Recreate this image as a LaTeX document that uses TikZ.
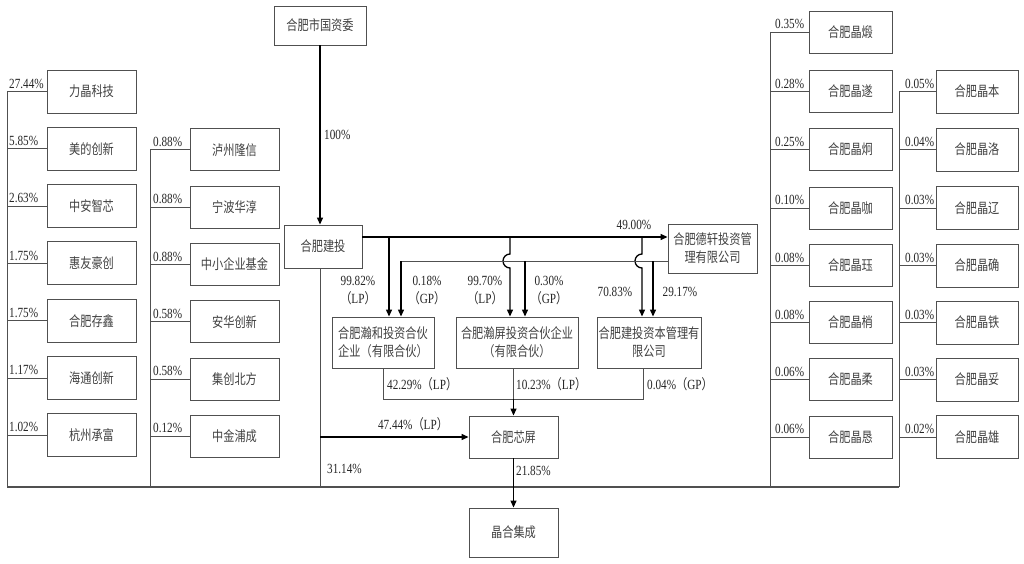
\documentclass[tikz,border=0pt]{standalone}
\usepackage{fontspec}
\setmainfont{Liberation Serif}[FakeStretch=0.8]
\newfontfamily\cjk{Noto Sans CJK SC}[FakeStretch=0.8]
\usetikzlibrary{arrows.meta}
\definecolor{linegray}{HTML}{505050}
\definecolor{textgray}{HTML}{404040}
\newcommand{\kzL}{{\cjk （}}
\newcommand{\kzR}{{\cjk ）}}
\tikzset{
  box/.style={draw=linegray, line width=0.9pt, text=textgray, align=center, inner sep=1pt, font=\cjk\fontsize{14}{18}\selectfont},
  holder/.style={box, minimum width=89pt, minimum height=43pt},
  pct/.style={inner sep=0pt, text=black!85, align=center, font=\fontsize{14}{18}\selectfont},
  link/.style={draw=linegray, line width=0.9pt},
  own/.style={draw=black, line width=1.3pt, -{Triangle[length=7pt,width=6pt]}}
}
\begin{document}
\begin{tikzpicture}[x=1pt,y=-1pt]
\useasboundingbox (0,0) rectangle (1024,564);
\node[box, minimum width=92pt, minimum height=39pt] (gzw) at (320,25.5) {合肥市国资委};
\node[box, minimum width=78pt, minimum height=43pt] (jt) at (323,246.5) {合肥建投};
\node[box, minimum width=89pt, minimum height=49pt] (dx) at (712.5,248.5) {合肥德轩投资管\\理有限公司};
\node[box, minimum width=102pt, minimum height=51pt] (hh) at (383,342.5) {合肥瀚和投资合伙\\企业（有限合伙）};
\node[box, minimum width=122pt, minimum height=51pt] (hp) at (517,342.5) {合肥瀚屏投资合伙企业\\（有限合伙）};
\node[box, minimum width=104pt, minimum height=51pt] (zb) at (649,342.5) {合肥建投资本管理有\\限公司};
\node[box, minimum width=89pt, minimum height=42pt] (xp) at (513.5,437) {合肥芯屏};
\node[box, minimum width=89pt, minimum height=49pt] (jh) at (513.5,532.5) {晶合集成};
\coordinate (busA) at (7,487);
\coordinate (busB) at (150,487);
\coordinate (busJ) at (gzw.south |- busA);
\coordinate (busC) at (770,487);
\coordinate (busD) at (899,487);
\draw[link, line width=1.2pt] (busA) -- (busD);
\draw[own] (gzw.south) -- (gzw.south |- jt.north);
\node[pct, anchor=west] (p100) at (324,135) {100\%};
\draw[link] (gzw.south |- jt.south) -- (busJ);
\coordinate (j1) at (gzw.south |- xp.west);
\draw[own] (j1) -- (xp.west);
\node[pct] (p4744) at (413,424) {47.44\%\kzL LP\kzR};
\node[pct, anchor=west] (p3114) at (327,469) {31.14\%};
\coordinate (t0) at (jt.east |- 0,237);
\draw[own] (t0) -- (t0 -| dx.west);
\node[pct] (p4900) at (634,225) {49.00\%};
\coordinate (t1) at (389,237);
\draw[own] (t1) -- (t1 |- hh.north);
\coordinate (t2) at (510,237);
\draw[own] (t2) -- (510,254) arc[start angle=-90, end angle=-270, radius=7] -- (t2 |- hp.north);
\coordinate (t3) at (642,237);
\draw[own] (t3) -- (642,254) arc[start angle=-90, end angle=-270, radius=7] -- (t3 |- zb.north);
\coordinate (g0) at (dx.west |- 0,261);
\coordinate (g1) at (401,261);
\draw[link] (g0) -- (g1);
\draw[own] (g1) -- (g1 |- hh.north);
\coordinate (g2) at (525,261);
\draw[own] (g2) -- (g2 |- hp.north);
\coordinate (g3) at (653,261);
\draw[own] (g3) -- (g3 |- zb.north);
\node[pct] (p9982) at (358,291) {99.82\%\\\kzL LP\kzR};
\node[pct] (p0018) at (427,291) {0.18\%\\\kzL GP\kzR};
\node[pct] (p9970) at (485,291) {99.70\%\\\kzL LP\kzR};
\node[pct] (p0030) at (549,291) {0.30\%\\\kzL GP\kzR};
\node[pct] (p7083) at (615,292) {70.83\%};
\node[pct] (p2917) at (680,292) {29.17\%};
\coordinate (m1) at (hh.south |- 0,399);
\coordinate (m2) at (xp.north |- 0,399);
\coordinate (m3) at (643,399);
\draw[link] (hh.south) -- (m1) -- (m3) -- (m3 |- zb.south);
\draw[link] (m2 |- hp.south) -- (m2);
\draw[own] (m2) -- (xp.north);
\node[pct, anchor=west] (p4229) at (387,384) {42.29\%\kzL LP\kzR};
\node[pct, anchor=west] (p1023) at (516,384) {10.23\%\kzL LP\kzR};
\node[pct, anchor=west] (p0004) at (647,384) {0.04\%\kzL GP\kzR};
\draw[own] (xp.south) -- (jh.north);
\node[pct, anchor=west] (p2185) at (516,471) {21.85\%};
\foreach \nm/\pc [count=\i from 0] in {力晶科技/27.44,美的创新/5.85,中安智芯/2.63,惠友豪创/1.75,合肥存鑫/1.75,海通创新/1.17,杭州承富/1.02}{
  \node[holder] (la\i) at (91.5,91.5+57.3*\i) {\nm};
  \coordinate (lap\i) at (7,91.5+57.3*\i);
  \draw[link] (lap\i) -- (la\i.west);
  \node[pct, anchor=south west] (lat\i) at ([shift={(2,-3)}]lap\i) {\pc\%};
}
\draw[link] (lap0) -- (busA);
\foreach \nm/\pc [count=\i from 0] in {泸州隆信/0.88,宁波华淳/0.88,中小企业基金/0.88,安华创新/0.58,集创北方/0.58,中金浦成/0.12}{
  \node[holder, minimum height=42pt] (lb\i) at (234.5,149.8+57.3*\i) {\nm};
  \coordinate (lbp\i) at (150,149.8+57.3*\i);
  \draw[link] (lbp\i) -- (lb\i.west);
  \node[pct, anchor=south west] (lbt\i) at ([shift={(3,-3)}]lbp\i) {\pc\%};
}
\draw[link] (lbp0) -- (busB);
\foreach \nm/\pc/\yy [count=\i from 0] in {合肥晶煅/0.35/32,合肥晶遂/0.28/91.5,合肥晶炯/0.25/149.5,合肥晶咖/0.10/208,合肥晶珏/0.08/265.5,合肥晶梢/0.08/322.5,合肥晶柔/0.06/379.5,合肥晶恳/0.06/437}{
  \node[holder, minimum width=83pt, minimum height=42pt] (rc\i) at (850.5,\yy) {\nm};
  \coordinate (rcp\i) at (770,\yy);
  \draw[link] (rcp\i) -- (rc\i.west);
  \node[pct, anchor=south west] (rct\i) at ([shift={(5,-3)}]rcp\i) {\pc\%};
}
\draw[link] (rcp0) -- (busC);
\foreach \nm/\pc/\yy [count=\i from 0] in {合肥晶本/0.05/91.5,合肥晶洛/0.04/149.5,合肥晶辽/0.03/208,合肥晶确/0.03/265.5,合肥晶铁/0.03/322.5,合肥晶妥/0.03/379.5,合肥晶雄/0.02/437}{
  \node[holder, minimum width=82pt, minimum height=43pt] (rd\i) at (977,\yy) {\nm};
  \coordinate (rdp\i) at (899,\yy);
  \draw[link] (rdp\i) -- (rd\i.west);
  \node[pct, anchor=south west] (rdt\i) at ([shift={(6,-3)}]rdp\i) {\pc\%};
}
\draw[link] (rdp0) -- (busD);
\end{tikzpicture}
\end{document}
